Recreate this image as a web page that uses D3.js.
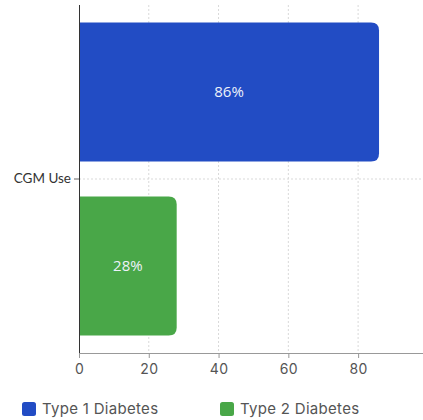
<!DOCTYPE html>
<html>
<head>
<meta charset="utf-8">
<script src="https://cdn.jsdelivr.net/npm/d3@7"></script>
<style>
  html, body { margin: 0; padding: 0; background: #fff; }
  svg { display: block; }
</style>
</head>
<body>
<div id="chart"></div>
<script>
// CGM use by diabetes type (percent of patients)
const categories = ["CGM Use"];
const seriesNames = ["Type 1 Diabetes", "Type 2 Diabetes"];
const seriesValues = [86, 28];
const seriesColors = ["#224cc4", "#49a748"];
const xTicks = [0, 20, 40, 60, 80];

const W = 423, H = 420;
const margin = { top: 5, right: 0, bottom: 67, left: 79 };
const innerW = W - margin.left - margin.right;
const innerH = H - margin.top - margin.bottom;

const svg = d3.select("#chart").append("svg")
  .attr("width", W).attr("height", H);

const g = svg.append("g").attr("transform", `translate(${margin.left},${margin.top})`);

const x = d3.scaleLinear().domain([0, 98.6]).range([0, innerW]);
const y = d3.scaleBand().domain(categories).range([0, innerH]);
const ySub = d3.scaleBand().domain(seriesNames).range([0, y.bandwidth()])
  .paddingInner(0.2).paddingOuter(0.1);

// vertical grid lines
g.append("g").selectAll("line")
  .data(xTicks.filter(d => d > 0))
  .join("line")
  .attr("x1", d => x(d)).attr("x2", d => x(d))
  .attr("y1", 0).attr("y2", innerH)
  .attr("stroke", "#d9d9d9").attr("stroke-dasharray", "2,2");

// horizontal grid line at category
g.append("g").selectAll("line")
  .data(categories)
  .join("line")
  .attr("x1", 0).attr("x2", innerW)
  .attr("y1", d => y(d) + y.bandwidth() / 2).attr("y2", d => y(d) + y.bandwidth() / 2)
  .attr("stroke", "#d9d9d9").attr("stroke-dasharray", "2,2");

// bars, rounded on the value end only
const r = 8;
function barPath(x0, y0, w, h) {
  return `M${x0},${y0}H${x0 + w - r}Q${x0 + w},${y0} ${x0 + w},${y0 + r}` +
         `V${y0 + h - r}Q${x0 + w},${y0 + h} ${x0 + w - r},${y0 + h}H${x0}Z`;
}
const bars = seriesNames.map((s, i) => ({ name: s, value: seriesValues[i], color: seriesColors[i] }));

g.append("g").selectAll("path")
  .data(bars)
  .join("path")
  .attr("d", d => barPath(x(0), y(categories[0]) + ySub(d.name), x(d.value) - x(0), ySub.bandwidth()))
  .attr("fill", d => d.color);

g.append("g").selectAll("text")
  .data(bars)
  .join("text")
  .attr("x", d => (x(0) + x(d.value)) / 2)
  .attr("y", d => y(categories[0]) + ySub(d.name) + ySub.bandwidth() / 2)
  .attr("dy", "0.35em")
  .attr("text-anchor", "middle")
  .attr("font-family", "'Open Sans', sans-serif")
  .attr("font-size", 15)
  .attr("fill", "#eef2fa")
  .text(d => d.value + "%");

// x axis
const xAxis = g.append("g")
  .attr("transform", `translate(0,${innerH})`)
  .call(d3.axisBottom(x).tickValues(xTicks).tickSize(5).tickPadding(6));
xAxis.select(".domain").attr("stroke", "#999").attr("stroke-width", 1.2)
  .attr("d", `M0,0.5H${innerW}`);
xAxis.selectAll(".tick line").attr("stroke", "#999");
xAxis.selectAll(".tick text")
  .attr("font-family", "Inter, 'Noto Sans', sans-serif")
  .attr("font-size", 14).attr("letter-spacing", 0.4).attr("fill", "#555");

// y axis
const yAxis = g.append("g")
  .call(d3.axisLeft(y).tickSize(5).tickPadding(3));
yAxis.select(".domain").attr("stroke", "#333").attr("d", `M0.5,0V${innerH}`);
yAxis.selectAll(".tick line").attr("stroke", "#666");
yAxis.selectAll(".tick text")
  .attr("font-family", "Lato, sans-serif")
  .attr("font-size", 13.5).attr("fill", "#333");

// legend
const legendX = [22, 220];
const legend = svg.append("g").selectAll("g")
  .data(bars)
  .join("g")
  .attr("transform", (d, i) => `translate(${legendX[i]},402)`);
legend.append("rect")
  .attr("width", 14).attr("height", 14).attr("rx", 2.5)
  .attr("fill", d => d.color);
legend.append("text")
  .attr("x", 20).attr("y", 7).attr("dy", "0.36em")
  .attr("font-family", "Inter, 'Noto Sans', sans-serif")
  .attr("font-size", 15).attr("letter-spacing", 0.3).attr("fill", "#555")
  .text(d => d.name);
</script>
</body>
</html>
